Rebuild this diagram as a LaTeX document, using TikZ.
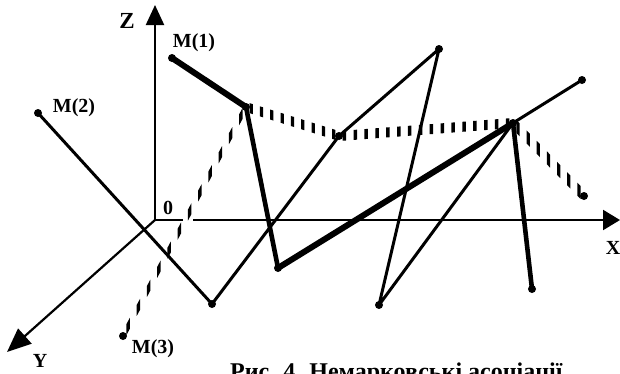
\documentclass[tikz,border=0pt]{standalone}
\usepackage{fontspec}
\setmainfont{Liberation Serif}
\usetikzlibrary{arrows.meta,calc}
\newcommand\tickline[4]{%
  \foreach \i in {1,...,#3}{%
    \pgfmathsetmacro\ta{(\i-0.66)/#3}%
    \pgfmathsetmacro\tb{(\i-0.34)/#3}%
    \fill ($(#1)!\ta!(#2)+(0,-#4/2)$) -- ($(#1)!\tb!(#2)+(0,-#4/2)$) --
          ($(#1)!\tb!(#2)+(0,#4/2)$) -- ($(#1)!\ta!(#2)+(0,#4/2)$) -- cycle;}}
\tikzset{
  axis/.style={line width=2.2pt},
  thinline/.style={line width=3pt, line join=round},
  boldline/.style={line width=4.6pt, line join=round},
  heavyline/.style={line width=6pt},
  dot/.style={circle, fill=black, inner sep=0pt, minimum size=8pt},
  lbl/.style={font=\fontsize{20}{24}\selectfont\bfseries, inner sep=0pt},
}
\begin{document}
\begin{tikzpicture}[x=1pt,y=-1pt]
\useasboundingbox (0,0) rectangle (620,373);
\clip (0,0) rectangle (620,373);
% axes
\coordinate (O) at (155,220);
\coordinate (Ztip) at (155,5);
\coordinate (Xtip) at (620,220);
\coordinate (Ytip) at (7,352);
\coordinate (gapL) at (183,220);
\coordinate (gapR) at (193,220);
\draw[axis, -{Triangle[length=20pt,width=18pt]}] (O) -- (Ztip);
\draw[axis] (O) -- (gapL);
\draw[axis, -{Triangle[length=17pt,width=20pt]}] (gapR) -- (Xtip);
\draw[axis, -{Triangle[length=24pt,width=20pt]}] (O) -- (Ytip);
% points
\node[dot] (M1) at (172,58) {};
\node[dot] (M2) at (38,113) {};
\node[dot] (M3) at (123,336) {};
\node[dot] (P1) at (246,107) {};
\node[dot] (R) at (278,268) {};
\node[dot] (Q) at (513,123) {};
\node[dot] (S) at (532,289) {};
\node[dot] (T) at (582,80) {};
\node[dot] (U) at (379,305) {};
\node[dot] (V) at (439,49) {};
\node[dot] (P) at (339,136) {};
\node[dot] (W) at (212,304) {};
\node[dot] (E) at (584,196) {};
% thin polyline
\draw[thinline] (M2.center) -- (W.center) -- (P.center) -- (V.center) -- (U.center) -- (Q.center) -- (T.center);
% bold polyline
\draw[heavyline] (M1.center) -- (P1.center);
\draw[boldline] (P1.center) -- (R.center);
\draw[heavyline] (R.center) -- (Q.center);
\draw[boldline] (Q.center) -- (S.center);
% tick lines
\tickline{M3}{P1}{12}{11}
\tickline{P1}{P}{9}{10}
\tickline{P}{Q}{16}{10}
\tickline{Q}{E}{7}{13}
% labels
\node[lbl, font=\fontsize{23}{27}\selectfont\bfseries] (zl) at (127,21) {Z};
\node[lbl] (xl) at (613,248) {X};
\node[lbl] (yl) at (40,361) {Y};
\node[lbl] (ol) at (168,208) {0};
\node[lbl] (m1l) at (194,43) {M(1)};
\node[lbl] (m2l) at (74,108) {M(2)};
\node[lbl] (m3l) at (153,349) {M(3)};
\node[lbl, font=\fontsize{24}{28}\selectfont\bfseries, anchor=base west] (cap) at (230,379) {Рис. 4. Немарковські асоціації};
\end{tikzpicture}
\end{document}
